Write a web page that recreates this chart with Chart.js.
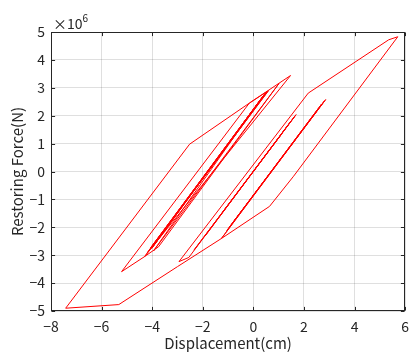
<!DOCTYPE html>
<html><head><meta charset="utf-8">
<script src="https://cdn.jsdelivr.net/npm/chart.js@4.4.0/dist/chart.umd.min.js"></script>
<style>html,body{margin:0;padding:0;background:#fff;}canvas{display:block;}</style>
</head><body>
<canvas id="c" width="416" height="352"></canvas>
<script>
// ---- data (displacement in cm, restoring force in units of 10^6 N) ----
const displacementCm = [
  0.00, 1.10, -1.20, 1.45, -1.90, 1.69, -2.35, 1.62, -2.55, -2.94,
  2.17, 5.35, 5.71, 1.59, 0.64, -1.26, 2.86, -0.80, 2.55, -1.05,
  2.70, -0.95, 2.80, -1.26, -3.00, -5.32, -7.42, -2.52, -0.16, 1.47,
  -4.30, -5.21, -0.16, 0.56, -4.05, 0.40, -4.20, 0.60, -4.30, -3.75,
  1.01, -3.95, 0.30, -4.10, 0.50, -3.98, 0.52, -4.02, 0.45, -2.50
];
const forceE6N = [
  0.00, 1.32, -1.44, 1.76, -2.30, 2.04, -2.82, 1.96, -3.08, -3.23,
  2.81, 4.72, 4.83, -0.17, -1.25, -2.40, 2.58, -1.82, 2.22, -2.12,
  2.42, -2.00, 2.52, -2.40, -3.41, -4.77, -4.90, 0.98, 2.45, 3.44,
  -3.05, -3.59, 2.45, 2.88, -2.72, 2.72, -2.92, 2.90, -3.05, -2.70,
  3.15, -2.85, 2.60, -2.80, 2.82, -2.70, 2.86, -2.76, 2.78, -0.85
];
const xTicks = [-8, -6, -4, -2, 0, 2, 4, 6];
const yTicks = [-5, -4, -3, -2, -1, 0, 1, 2, 3, 4, 5];
const forceExponent = '6';
const xTitle = 'Displacement(cm)';
const yTitle = 'Restoring Force(N)';

const FONT = '"Noto Sans CJK JP", "DejaVu Sans", sans-serif';
const AX = '#262626';
const fmt = v => (v < 0 ? '\u2212' + Math.abs(v) : String(v));

const points = displacementCm.map((x, i) => ({ x: x, y: forceE6N[i] }));

const frame = {
  id: 'frame',
  afterDatasetsDraw(chart) {
    const { ctx, chartArea: a, scales: { x, y } } = chart;
    const L = Math.round(a.left) + 0.5, R = Math.round(a.right) - 0.5;
    const T = Math.round(a.top) + 0.5, B = Math.round(a.bottom) - 0.5;
    ctx.save();
    ctx.strokeStyle = AX; ctx.lineWidth = 1;
    ctx.beginPath();
    const tl = 3.6;
    xTicks.forEach(v => {
      const px = Math.round(x.getPixelForValue(v)) + 0.5;
      ctx.moveTo(px, B); ctx.lineTo(px, B - tl);
      ctx.moveTo(px, T); ctx.lineTo(px, T + tl);
    });
    yTicks.forEach(v => {
      const py = Math.round(y.getPixelForValue(v)) + 0.5;
      ctx.moveTo(L, py); ctx.lineTo(L + tl, py);
      ctx.moveTo(R, py); ctx.lineTo(R - tl, py);
    });
    ctx.stroke();
    ctx.strokeRect(L, T, R - L, B - T);
    ctx.fillStyle = AX;
    ctx.textBaseline = 'alphabetic';
    ctx.textAlign = 'left';
    ctx.font = '14px ' + FONT;
    const base = '\u00d710';
    ctx.fillText(base, a.left + 2, a.top - 3);
    const w = ctx.measureText(base).width;
    ctx.font = '10px ' + FONT;
    ctx.fillText(forceExponent, a.left + 2 + w, a.top - 10);
    ctx.restore();
  }
};

new Chart(document.getElementById('c'), {
  type: 'scatter',
  data: {
    datasets: [{
      data: points,
      showLine: true,
      borderColor: '#ff0000',
      borderWidth: 1,
      pointRadius: 0,
      fill: false,
      tension: 0
    }]
  },
  options: {
    responsive: false,
    animation: false,
    devicePixelRatio: 1,
    layout: { padding: { top: 32, right: 5, left: 0, bottom: 0 } },
    plugins: { legend: { display: false }, tooltip: { enabled: false } },
    scales: {
      x: {
        type: 'linear', position: 'bottom', min: -8, max: 6,
        afterBuildTicks: s => { s.ticks = xTicks.map(v => ({ value: v })); },
        afterFit: s => { s.height = 41; },
        ticks: { callback: fmt, color: AX, font: { family: FONT, size: 14 }, padding: 7, maxRotation: 0 },
        grid: { color: 'rgba(38,38,38,0.15)', drawTicks: false },
        border: { display: false },
        title: { display: true, text: xTitle, color: AX, font: { family: FONT, size: 15 }, padding: { top: 0, bottom: 0 } }
      },
      y: {
        type: 'linear', position: 'left', min: -5, max: 5,
        afterBuildTicks: s => { s.ticks = yTicks.map(v => ({ value: v })); },
        afterFit: s => { s.width = 51; },
        ticks: { callback: fmt, color: AX, font: { family: FONT, size: 14 }, padding: 6 },
        grid: { color: 'rgba(38,38,38,0.15)', drawTicks: false },
        border: { display: false },
        title: { display: true, text: yTitle, color: AX, font: { family: FONT, size: 15 }, padding: { top: 8, bottom: 0 } }
      }
    }
  },
  plugins: [frame]
});
</script>
</body></html>
